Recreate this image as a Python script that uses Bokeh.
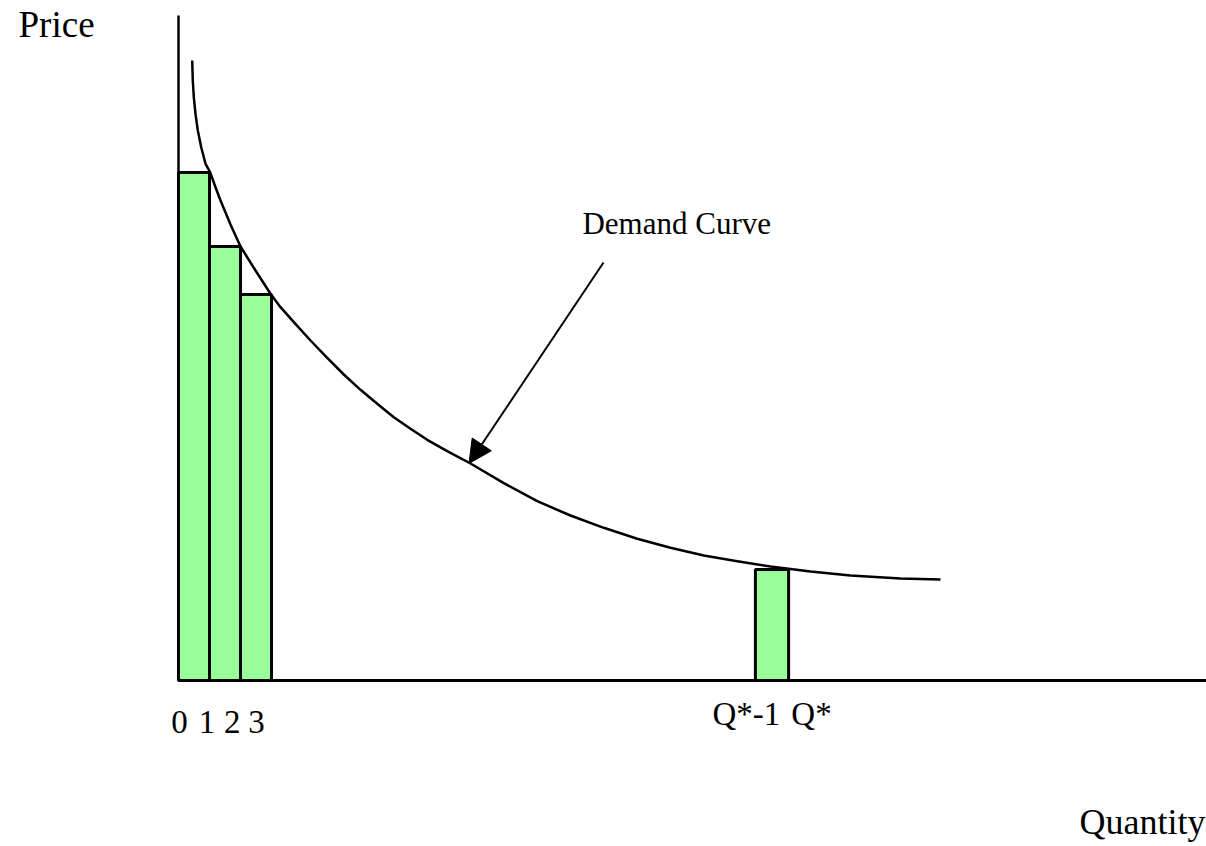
from bokeh.plotting import figure
from bokeh.models import Range1d, Arrow, NormalHead
from bokeh.core.properties import value
from bokeh.embed import file_html
from bokeh.resources import INLINE

# ---- data (quantity units along x, price units along y) ----
bar_left = [0, 1, 2, 18.61]
bar_right = [1, 2, 3, 19.68]
bar_price = [50.8, 43.4, 38.6, 11.1]

curve_q = [0.442, 0.461, 0.494, 0.548, 0.623, 0.732, 0.871, 1.01, 1.194, 1.355,
           1.677, 2.0, 2.484, 2.968, 3.29, 3.72, 4.258, 4.797, 5.332, 5.871,
           6.41, 6.945, 7.484, 8.023, 8.668, 9.419, 10.494, 11.571, 12.645,
           13.719, 14.797, 15.871, 16.945, 18.023, 19.097, 20.387, 21.677,
           23.29, 24.58]
curve_p = [62.0, 60.0, 58.33, 56.67, 55.0, 53.33, 51.67, 50.9, 49.33, 48.0,
           45.6, 43.4, 41.0, 38.67, 37.33, 35.83, 34.0, 32.27, 30.6, 29.07,
           27.67, 26.33, 25.17, 24.07, 22.93, 21.7, 19.73, 17.93, 16.5,
           15.27, 14.17, 13.27, 12.5, 11.93, 11.4, 10.9, 10.5,
           10.2, 10.1]

tick_labels = ["0", "1", "2", "3", "Q*-1", "Q*"]
tick_q = [0.03, 0.92, 1.73, 2.52, 18.32, 20.42]
tick_base = [-4.1, -4.1, -4.1, -4.1, -3.3, -3.3]

annotation = "Demand Curve"
x_title = "Quantity"
y_title = "Price"

FONT = value("Liberation Serif")

p = figure(width=1206, height=846, output_backend="svg", toolbar_location=None,
           x_range=Range1d(-5.742, 33.161), y_range=Range1d(-16.6, 68.0),
           min_border=0, min_border_left=0, min_border_right=0,
           min_border_top=0, min_border_bottom=0)
p.xaxis.visible = False
p.yaxis.visible = False
p.grid.visible = False
p.outline_line_color = None
p.background_fill_color = "white"
p.border_fill_color = "white"

# bars
p.quad(left=bar_left, right=bar_right, bottom=0, top=bar_price,
       fill_color="#99FF99", line_color="black", line_width=3)

# axis lines
p.line(x=[0, 0], y=[0, 66.5], line_color="black", line_width=2.5)
p.line(x=[0, 34], y=[0, 0], line_color="black", line_width=3)

# demand curve
p.line(x=curve_q, y=curve_p, line_color="black", line_width=2.5,
       line_join="round")

# arrow
p.add_layout(Arrow(x_start=13.71, y_start=41.8, x_end=9.37, y_end=21.7,
                   line_color="black", line_width=2,
                   end=NormalHead(size=23, fill_color="black", line_color="black")))

# texts
p.text(x=tick_q, y=tick_base, text=tick_labels, text_font=FONT,
       text_font_size="33px", text_align="center", text_baseline="alphabetic",
       text_color="black")
p.text(x=[13.03], y=[45.7], text=[annotation], text_font=FONT,
       text_font_size="31px", text_align="left", text_baseline="alphabetic",
       text_color="black")
p.text(x=[-5.16], y=[65.6], text=[y_title], text_font=FONT,
       text_font_size="37px", text_align="left", text_baseline="alphabetic",
       text_color="black")
p.text(x=[33.13], y=[-14.1], text=[x_title], text_font=FONT,
       text_font_size="36px", text_align="right", text_baseline="alphabetic",
       text_color="black")

open("out.html", "w").write(file_html(p, INLINE))
